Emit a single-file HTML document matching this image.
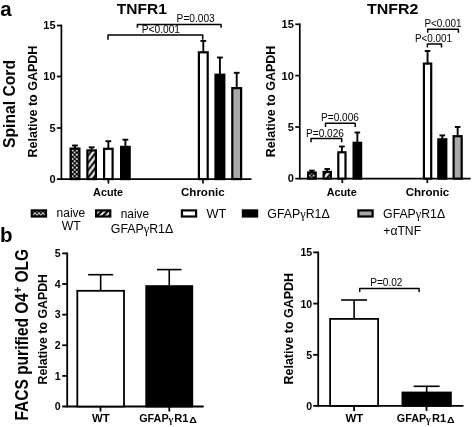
<!DOCTYPE html>
<html lang="en">
<head>
<meta charset="utf-8">
<title>TNFR1 and TNFR2 expression</title>
<style>
html,body{margin:0;padding:0;background:#fff;}
body{width:472px;height:427px;overflow:hidden;}
svg{display:block;}
svg text{font-family:"Liberation Sans",sans-serif;fill:#000;}
</style>
</head>
<body>
<svg width="472" height="427" viewBox="0 0 472 427">
<defs>
<pattern id="chk" width="4.3" height="4.3" x="0.5" y="1" patternUnits="userSpaceOnUse">
<rect width="4.3" height="4.3" fill="#000"/><rect x="0.2" y="0.2" width="1.75" height="1.75" fill="#fff"/><rect x="2.35" y="2.35" width="1.75" height="1.75" fill="#fff"/>
</pattern>
<pattern id="chk2" width="4.3" height="4.3" x="1" y="0.3" patternUnits="userSpaceOnUse">
<rect width="4.3" height="4.3" fill="#000"/><rect x="0.2" y="0.2" width="1.75" height="1.75" fill="#fff"/><rect x="2.35" y="2.35" width="1.75" height="1.75" fill="#fff"/>
</pattern>
<pattern id="chk3" width="4" height="4" x="1.9" y="0.5" patternUnits="userSpaceOnUse">
<rect width="4" height="4" fill="#000"/><rect width="2" height="1.6" fill="#fff"/><rect x="2" y="1.6" width="2" height="1.6" fill="#fff"/>
</pattern>
<pattern id="hat2" width="6" height="6" x="1" y="0" patternUnits="userSpaceOnUse">
<rect width="6" height="6" fill="#dcdcdc"/><path d="M-1 1L1 -1M-1 7L7 -1M5 7L7 5" stroke="#000" stroke-width="2"/>
</pattern>
<pattern id="hat" width="5.7" height="7.4" x="1" y="2" patternUnits="userSpaceOnUse">
<rect width="5.7" height="7.4" fill="#e2e2e2"/><path d="M-1 1.3L1 -1.3M-1 8.7L6.7 -1.3M4.7 8.7L6.7 6.1" stroke="#000" stroke-width="1.9"/>
</pattern>
</defs>
<rect width="472" height="427" fill="#fff"/>
<g id="panel-a-tnfr1">
<text x="0.3" y="15.5" font-size="20.5" font-weight="bold" text-anchor="start">a</text>
<text x="116.8" y="14" font-size="15.5" font-weight="bold" text-anchor="start" textLength="50" lengthAdjust="spacingAndGlyphs">TNFR1</text>
<text transform="translate(15,148) rotate(-90)" font-size="16" font-weight="bold" textLength="88" lengthAdjust="spacingAndGlyphs">Spinal Cord</text>
<text transform="translate(36.5,157.5) rotate(-90)" font-size="12" font-weight="bold" textLength="111.8" lengthAdjust="spacingAndGlyphs">Relative to GAPDH</text>
<line x1="61.4" y1="24.65" x2="61.4" y2="179.95" stroke="#000" stroke-width="1.7" stroke-linecap="butt"/>
<line x1="56.9" y1="179.1" x2="251.5" y2="179.1" stroke="#000" stroke-width="1.7" stroke-linecap="butt"/>
<line x1="56.9" y1="25.5" x2="61.4" y2="25.5" stroke="#000" stroke-width="1.7" stroke-linecap="butt"/>
<line x1="56.9" y1="76.5" x2="61.4" y2="76.5" stroke="#000" stroke-width="1.7" stroke-linecap="butt"/>
<line x1="56.9" y1="128" x2="61.4" y2="128" stroke="#000" stroke-width="1.7" stroke-linecap="butt"/>
<line x1="108.4" y1="179.1" x2="108.4" y2="183.6" stroke="#000" stroke-width="1.7" stroke-linecap="butt"/>
<line x1="203" y1="179.1" x2="203" y2="183.6" stroke="#000" stroke-width="1.7" stroke-linecap="butt"/>
<text x="55.6" y="29.2" font-size="11" font-weight="bold" text-anchor="end">15</text>
<text x="55.6" y="80.2" font-size="11" font-weight="bold" text-anchor="end">10</text>
<text x="55.6" y="131.7" font-size="11" font-weight="bold" text-anchor="end">5</text>
<text x="55.6" y="182.79999999999998" font-size="11" font-weight="bold" text-anchor="end">0</text>
<line x1="75.0" y1="145.5" x2="75.0" y2="148.5" stroke="#000" stroke-width="1.9" stroke-linecap="butt"/>
<line x1="72.1" y1="145.5" x2="77.9" y2="145.5" stroke="#000" stroke-width="1.9" stroke-linecap="butt"/>
<rect x="70.6" y="148.6" width="8.8" height="30.499999999999993" fill="url(#chk)" stroke="#000" stroke-width="2.2"/>
<line x1="91.65" y1="147.3" x2="91.65" y2="150.3" stroke="#000" stroke-width="1.9" stroke-linecap="butt"/>
<line x1="88.75" y1="147.3" x2="94.55000000000001" y2="147.3" stroke="#000" stroke-width="1.9" stroke-linecap="butt"/>
<rect x="87.39999999999999" y="150.4" width="8.500000000000004" height="28.69999999999998" fill="url(#hat)" stroke="#000" stroke-width="2.2"/>
<line x1="108.35" y1="141.2" x2="108.35" y2="148.7" stroke="#000" stroke-width="1.9" stroke-linecap="butt"/>
<line x1="105.44999999999999" y1="141.2" x2="111.25" y2="141.2" stroke="#000" stroke-width="1.9" stroke-linecap="butt"/>
<rect x="104.1" y="148.79999999999998" width="8.500000000000004" height="30.300000000000004" fill="#fff" stroke="#000" stroke-width="2.2"/>
<line x1="125.4" y1="139.7" x2="125.4" y2="146.8" stroke="#000" stroke-width="1.9" stroke-linecap="butt"/>
<line x1="122.5" y1="139.7" x2="128.3" y2="139.7" stroke="#000" stroke-width="1.9" stroke-linecap="butt"/>
<rect x="121.1" y="146.9" width="8.600000000000012" height="32.19999999999998" fill="#000" stroke="#000" stroke-width="2.2"/>
<line x1="203.3" y1="40.9" x2="203.3" y2="52.2" stroke="#000" stroke-width="1.9" stroke-linecap="butt"/>
<line x1="200.4" y1="40.9" x2="206.20000000000002" y2="40.9" stroke="#000" stroke-width="1.9" stroke-linecap="butt"/>
<rect x="198.9" y="52.300000000000004" width="8.8" height="126.8" fill="#fff" stroke="#000" stroke-width="2.2"/>
<line x1="219.9" y1="57.5" x2="219.9" y2="74.6" stroke="#000" stroke-width="1.9" stroke-linecap="butt"/>
<line x1="217.0" y1="57.5" x2="222.8" y2="57.5" stroke="#000" stroke-width="1.9" stroke-linecap="butt"/>
<rect x="215.5" y="74.69999999999999" width="8.8" height="104.4" fill="#000" stroke="#000" stroke-width="2.2"/>
<line x1="236.7" y1="72.8" x2="236.7" y2="88" stroke="#000" stroke-width="1.9" stroke-linecap="butt"/>
<line x1="233.79999999999998" y1="72.8" x2="239.6" y2="72.8" stroke="#000" stroke-width="1.9" stroke-linecap="butt"/>
<rect x="232.29999999999998" y="88.1" width="8.8" height="91.0" fill="#a8a8a8" stroke="#000" stroke-width="2.2"/>
<text x="108.1" y="196" font-size="11.3" font-weight="bold" text-anchor="middle" textLength="30" lengthAdjust="spacingAndGlyphs">Acute</text>
<text x="202.8" y="196" font-size="11.3" font-weight="bold" text-anchor="middle" textLength="43.6" lengthAdjust="spacingAndGlyphs">Chronic</text>
<path d="M137.4 27.7V24.4H221.1V27.7" fill="none" stroke="#000" stroke-width="1.5" stroke-linejoin="round"/>
<path d="M108 39.8V35H202.7V39.8" fill="none" stroke="#000" stroke-width="1.5" stroke-linejoin="round"/>
<text x="176.6" y="22" font-size="10" font-weight="normal" text-anchor="start" textLength="38.2" lengthAdjust="spacingAndGlyphs">P=0.003</text>
<text x="141.8" y="33" font-size="10" font-weight="normal" text-anchor="start" textLength="38.2" lengthAdjust="spacingAndGlyphs">P&lt;0.001</text>
</g>
<g id="panel-a-tnfr2">
<text x="367" y="14" font-size="15.5" font-weight="bold" text-anchor="start" textLength="51.5" lengthAdjust="spacingAndGlyphs">TNFR2</text>
<text transform="translate(274.6,157.2) rotate(-90)" font-size="12" font-weight="bold" textLength="111.5" lengthAdjust="spacingAndGlyphs">Relative to GAPDH</text>
<line x1="299.8" y1="23.45" x2="299.8" y2="179.45" stroke="#000" stroke-width="1.7" stroke-linecap="butt"/>
<line x1="295.3" y1="178.6" x2="470.6" y2="178.6" stroke="#000" stroke-width="1.7" stroke-linecap="butt"/>
<line x1="295.3" y1="24.3" x2="299.8" y2="24.3" stroke="#000" stroke-width="1.7" stroke-linecap="butt"/>
<line x1="295.3" y1="75.6" x2="299.8" y2="75.6" stroke="#000" stroke-width="1.7" stroke-linecap="butt"/>
<line x1="295.3" y1="127" x2="299.8" y2="127" stroke="#000" stroke-width="1.7" stroke-linecap="butt"/>
<line x1="342.3" y1="178.6" x2="342.3" y2="183.1" stroke="#000" stroke-width="1.7" stroke-linecap="butt"/>
<line x1="427.3" y1="178.6" x2="427.3" y2="183.1" stroke="#000" stroke-width="1.7" stroke-linecap="butt"/>
<text x="293.8" y="28" font-size="11" font-weight="bold" text-anchor="end">15</text>
<text x="293.8" y="80" font-size="11" font-weight="bold" text-anchor="end">10</text>
<text x="293.8" y="131" font-size="11" font-weight="bold" text-anchor="end">5</text>
<text x="293.8" y="182" font-size="11" font-weight="bold" text-anchor="end">0</text>
<line x1="311.9" y1="170.6" x2="311.9" y2="172.4" stroke="#000" stroke-width="1.9" stroke-linecap="butt"/>
<line x1="309.09999999999997" y1="170.6" x2="314.7" y2="170.6" stroke="#000" stroke-width="1.9" stroke-linecap="butt"/>
<rect x="308.1" y="172.5" width="7.600000000000011" height="6.099999999999989" fill="url(#chk2)" stroke="#000" stroke-width="2.2"/>
<line x1="327.25" y1="169" x2="327.25" y2="171.8" stroke="#000" stroke-width="1.9" stroke-linecap="butt"/>
<line x1="324.45" y1="169" x2="330.05" y2="169" stroke="#000" stroke-width="1.9" stroke-linecap="butt"/>
<rect x="323.6" y="171.9" width="7.3" height="6.699999999999983" fill="url(#hat)" stroke="#000" stroke-width="2.2"/>
<line x1="341.9" y1="146.5" x2="341.9" y2="152.2" stroke="#000" stroke-width="1.9" stroke-linecap="butt"/>
<line x1="339.09999999999997" y1="146.5" x2="344.7" y2="146.5" stroke="#000" stroke-width="1.9" stroke-linecap="butt"/>
<rect x="338.3" y="152.29999999999998" width="7.200000000000034" height="26.300000000000004" fill="#fff" stroke="#000" stroke-width="2.2"/>
<line x1="357.35" y1="132.5" x2="357.35" y2="142.7" stroke="#000" stroke-width="1.9" stroke-linecap="butt"/>
<line x1="354.55" y1="132.5" x2="360.15000000000003" y2="132.5" stroke="#000" stroke-width="1.9" stroke-linecap="butt"/>
<rect x="353.6" y="142.79999999999998" width="7.4999999999999885" height="35.800000000000004" fill="#000" stroke="#000" stroke-width="2.2"/>
<line x1="427.55" y1="51" x2="427.55" y2="63.5" stroke="#000" stroke-width="1.9" stroke-linecap="butt"/>
<line x1="424.75" y1="51" x2="430.35" y2="51" stroke="#000" stroke-width="1.9" stroke-linecap="butt"/>
<rect x="423.90000000000003" y="63.6" width="7.3" height="115.0" fill="#fff" stroke="#000" stroke-width="2.2"/>
<line x1="442.29999999999995" y1="135.4" x2="442.29999999999995" y2="139.2" stroke="#000" stroke-width="1.9" stroke-linecap="butt"/>
<line x1="439.49999999999994" y1="135.4" x2="445.09999999999997" y2="135.4" stroke="#000" stroke-width="1.9" stroke-linecap="butt"/>
<rect x="438.3" y="139.29999999999998" width="7.9999999999999885" height="39.300000000000004" fill="#000" stroke="#000" stroke-width="2.2"/>
<line x1="457.65" y1="127" x2="457.65" y2="136.1" stroke="#000" stroke-width="1.9" stroke-linecap="butt"/>
<line x1="454.84999999999997" y1="127" x2="460.45" y2="127" stroke="#000" stroke-width="1.9" stroke-linecap="butt"/>
<rect x="453.6" y="136.2" width="8.100000000000012" height="42.4" fill="#a8a8a8" stroke="#000" stroke-width="2.2"/>
<text x="341.7" y="196" font-size="11.3" font-weight="bold" text-anchor="middle" textLength="30" lengthAdjust="spacingAndGlyphs">Acute</text>
<text x="427.5" y="196" font-size="11.3" font-weight="bold" text-anchor="middle" textLength="43.6" lengthAdjust="spacingAndGlyphs">Chronic</text>
<path d="M311 142.3V138.5H341.7V142.3" fill="none" stroke="#000" stroke-width="1.5" stroke-linejoin="round"/>
<path d="M325.5 127.1V123.3H355.2V127.1" fill="none" stroke="#000" stroke-width="1.5" stroke-linejoin="round"/>
<text x="306" y="137" font-size="10" font-weight="normal" text-anchor="start" textLength="38" lengthAdjust="spacingAndGlyphs">P=0.026</text>
<text x="321" y="121" font-size="10" font-weight="normal" text-anchor="start" textLength="38" lengthAdjust="spacingAndGlyphs">P=0.006</text>
<path d="M427.7 32.7V29.2H458.4V32.7" fill="none" stroke="#000" stroke-width="1.5" stroke-linejoin="round"/>
<path d="M427.4 47.6V44.1H441.5V47.6" fill="none" stroke="#000" stroke-width="1.5" stroke-linejoin="round"/>
<text x="424.4" y="26.7" font-size="10" font-weight="normal" text-anchor="start" textLength="37.2" lengthAdjust="spacingAndGlyphs">P&lt;0.001</text>
<text x="414.9" y="41.5" font-size="10" font-weight="normal" text-anchor="start" textLength="37" lengthAdjust="spacingAndGlyphs">P&lt;0.001</text>
</g>
<g id="legend">
<rect x="31.8" y="210.4" width="14.2" height="6.1" fill="url(#chk3)" stroke="#000" stroke-width="2.2"/>
<rect x="96.1" y="210.4" width="14.2" height="6.1" fill="url(#hat2)" stroke="#000" stroke-width="2.2"/>
<rect x="181.9" y="210.4" width="14.2" height="6.1" fill="#fff" stroke="#000" stroke-width="2.2"/>
<rect x="242.9" y="210.4" width="14.2" height="6.1" fill="#000" stroke="#000" stroke-width="2.2"/>
<rect x="358.40000000000003" y="210.4" width="14.2" height="6.1" fill="#a8a8a8" stroke="#000" stroke-width="2.2"/>
<text x="70.9" y="217.4" font-size="12.5" font-weight="normal" text-anchor="middle" textLength="28.6" lengthAdjust="spacingAndGlyphs">naive</text>
<text x="71.2" y="230" font-size="12.5" font-weight="normal" text-anchor="middle" textLength="19" lengthAdjust="spacingAndGlyphs">WT</text>
<text x="134.9" y="217.6" font-size="12.5" font-weight="normal" text-anchor="middle" textLength="28.4" lengthAdjust="spacingAndGlyphs">naive</text>
<text x="110.8" y="232.6" font-size="12.5" font-weight="normal" text-anchor="start" textLength="62.4" lengthAdjust="spacingAndGlyphs">GFAP<tspan style="font-family:'Liberation Serif',serif">γ</tspan>R1Δ</text>
<text x="206.4" y="217.8" font-size="12.5" font-weight="normal" text-anchor="start" textLength="19.8" lengthAdjust="spacingAndGlyphs">WT</text>
<text x="267.3" y="218" font-size="12.5" font-weight="normal" text-anchor="start" textLength="62.4" lengthAdjust="spacingAndGlyphs">GFAP<tspan style="font-family:'Liberation Serif',serif">γ</tspan>R1Δ</text>
<text x="383.1" y="217.8" font-size="12.5" font-weight="normal" text-anchor="start" textLength="62" lengthAdjust="spacingAndGlyphs">GFAP<tspan style="font-family:'Liberation Serif',serif">γ</tspan>R1Δ</text>
<text x="383.3" y="235" font-size="12.5" font-weight="normal" text-anchor="start" textLength="37.8" lengthAdjust="spacingAndGlyphs">+αTNF</text>
</g>
<g id="panel-b-tnfr1">
<text x="0" y="241.7" font-size="20.5" font-weight="bold" text-anchor="start">b</text>
<text transform="translate(27.8,420.5) rotate(-90)" font-size="17.8" font-weight="bold" textLength="171.5" lengthAdjust="spacingAndGlyphs">FACS purified O4<tspan dy="-5.5" font-size="12">+</tspan><tspan dy="5.5"> OLG</tspan></text>
<text transform="translate(46.5,384.5) rotate(-90)" font-size="12" font-weight="bold" textLength="110.5" lengthAdjust="spacingAndGlyphs">Relative to GAPDH</text>
<line x1="67.2" y1="252.5" x2="67.2" y2="407.4" stroke="#000" stroke-width="1.8" stroke-linecap="butt"/>
<line x1="62.2" y1="406.5" x2="203.7" y2="406.5" stroke="#000" stroke-width="1.8" stroke-linecap="butt"/>
<line x1="62.2" y1="253.4" x2="67.2" y2="253.4" stroke="#000" stroke-width="1.8" stroke-linecap="butt"/>
<line x1="62.2" y1="284.02" x2="67.2" y2="284.02" stroke="#000" stroke-width="1.8" stroke-linecap="butt"/>
<line x1="62.2" y1="314.64" x2="67.2" y2="314.64" stroke="#000" stroke-width="1.8" stroke-linecap="butt"/>
<line x1="62.2" y1="345.26" x2="67.2" y2="345.26" stroke="#000" stroke-width="1.8" stroke-linecap="butt"/>
<line x1="62.2" y1="375.88" x2="67.2" y2="375.88" stroke="#000" stroke-width="1.8" stroke-linecap="butt"/>
<line x1="100.5" y1="406.5" x2="100.5" y2="411.5" stroke="#000" stroke-width="1.8" stroke-linecap="butt"/>
<line x1="169.3" y1="406.5" x2="169.3" y2="411.5" stroke="#000" stroke-width="1.8" stroke-linecap="butt"/>
<text x="60.6" y="257.1" font-size="10.6" font-weight="bold" text-anchor="end">5</text>
<text x="60.6" y="287.71999999999997" font-size="10.6" font-weight="bold" text-anchor="end">4</text>
<text x="60.6" y="318.34" font-size="10.6" font-weight="bold" text-anchor="end">3</text>
<text x="60.6" y="348.96" font-size="10.6" font-weight="bold" text-anchor="end">2</text>
<text x="60.6" y="379.58" font-size="10.6" font-weight="bold" text-anchor="end">1</text>
<text x="60.6" y="410.2" font-size="10.6" font-weight="bold" text-anchor="end">0</text>
<line x1="100.65" y1="274.7" x2="100.65" y2="290.9" stroke="#000" stroke-width="1.6" stroke-linecap="butt"/>
<line x1="88.15" y1="274.7" x2="113.15" y2="274.7" stroke="#000" stroke-width="1.6" stroke-linecap="butt"/>
<rect x="77.30000000000001" y="290.79999999999995" width="46.7" height="115.70000000000002" fill="#fff" stroke="#000" stroke-width="1.8"/>
<line x1="169.25" y1="269.6" x2="169.25" y2="286.2" stroke="#000" stroke-width="1.6" stroke-linecap="butt"/>
<line x1="157.0" y1="269.6" x2="181.5" y2="269.6" stroke="#000" stroke-width="1.6" stroke-linecap="butt"/>
<rect x="146.20000000000002" y="286.09999999999997" width="46.09999999999998" height="120.4" fill="#000" stroke="#000" stroke-width="1.8"/>
<text x="100.8" y="422.2" font-size="10.5" font-weight="bold" text-anchor="middle" textLength="17.7" lengthAdjust="spacingAndGlyphs">WT</text>
<g font-weight="bold">
<text x="139.2" y="422.3" font-size="10.5" font-weight="bold" text-anchor="start" textLength="29.4" lengthAdjust="spacingAndGlyphs">GFAP</text>
<text x="168.5" y="422.90000000000003" font-size="10" font-weight="bold" style="font-family:'Liberation Serif',serif">γ</text>
<text x="174.29999999999998" y="422.3" font-size="10.5" font-weight="bold" text-anchor="start" textLength="14.2" lengthAdjust="spacingAndGlyphs">R1</text>
<text x="189.29999999999998" y="422.7" font-size="8.4" font-weight="bold" text-anchor="start" textLength="7.6" lengthAdjust="spacingAndGlyphs">Δ</text>
</g>
</g>
<g id="panel-b-tnfr2">
<text transform="translate(292.6,384.5) rotate(-90)" font-size="12" font-weight="bold" textLength="111.5" lengthAdjust="spacingAndGlyphs">Relative to GAPDH</text>
<line x1="318.2" y1="251.5" x2="318.2" y2="406.79999999999995" stroke="#000" stroke-width="1.8" stroke-linecap="butt"/>
<line x1="313.2" y1="405.9" x2="463.5" y2="405.9" stroke="#000" stroke-width="1.8" stroke-linecap="butt"/>
<line x1="313.2" y1="252.4" x2="318.2" y2="252.4" stroke="#000" stroke-width="1.8" stroke-linecap="butt"/>
<line x1="313.2" y1="303.6" x2="318.2" y2="303.6" stroke="#000" stroke-width="1.8" stroke-linecap="butt"/>
<line x1="313.2" y1="354.8" x2="318.2" y2="354.8" stroke="#000" stroke-width="1.8" stroke-linecap="butt"/>
<line x1="354.1" y1="405.9" x2="354.1" y2="410.9" stroke="#000" stroke-width="1.8" stroke-linecap="butt"/>
<line x1="426.5" y1="405.9" x2="426.5" y2="410.9" stroke="#000" stroke-width="1.8" stroke-linecap="butt"/>
<text x="312.2" y="256.3" font-size="10.6" font-weight="bold" text-anchor="end">15</text>
<text x="312.2" y="307.5" font-size="10.6" font-weight="bold" text-anchor="end">10</text>
<text x="312.2" y="358.7" font-size="10.6" font-weight="bold" text-anchor="end">5</text>
<text x="312.2" y="409.79999999999995" font-size="10.6" font-weight="bold" text-anchor="end">0</text>
<line x1="354.1" y1="300" x2="354.1" y2="319" stroke="#000" stroke-width="1.6" stroke-linecap="butt"/>
<line x1="341.1" y1="300" x2="367.1" y2="300" stroke="#000" stroke-width="1.6" stroke-linecap="butt"/>
<rect x="330.09999999999997" y="318.9" width="48.000000000000014" height="86.99999999999997" fill="#fff" stroke="#000" stroke-width="1.8"/>
<line x1="426.65" y1="386.3" x2="426.65" y2="392.6" stroke="#000" stroke-width="1.6" stroke-linecap="butt"/>
<line x1="413.65" y1="386.3" x2="439.65" y2="386.3" stroke="#000" stroke-width="1.6" stroke-linecap="butt"/>
<rect x="402.4" y="392.5" width="48.500000000000014" height="13.399999999999954" fill="#000" stroke="#000" stroke-width="1.8"/>
<text x="354.4" y="422.2" font-size="10.5" font-weight="bold" text-anchor="middle" textLength="17.8" lengthAdjust="spacingAndGlyphs">WT</text>
<g font-weight="bold">
<text x="396.8" y="422.3" font-size="10.5" font-weight="bold" text-anchor="start" textLength="29.4" lengthAdjust="spacingAndGlyphs">GFAP</text>
<text x="426.1" y="422.90000000000003" font-size="10" font-weight="bold" style="font-family:'Liberation Serif',serif">γ</text>
<text x="431.90000000000003" y="422.3" font-size="10.5" font-weight="bold" text-anchor="start" textLength="14.2" lengthAdjust="spacingAndGlyphs">R1</text>
<text x="446.90000000000003" y="422.7" font-size="8.4" font-weight="bold" text-anchor="start" textLength="7.6" lengthAdjust="spacingAndGlyphs">Δ</text>
</g>
<path d="M359.7 292.1V288.5H419.1V292.1" fill="none" stroke="#000" stroke-width="1.5" stroke-linejoin="round"/>
<text x="370.2" y="285.5" font-size="10" font-weight="normal" text-anchor="start" textLength="32.3" lengthAdjust="spacingAndGlyphs">P=0.02</text>
</g>
</svg>
</body>
</html>
